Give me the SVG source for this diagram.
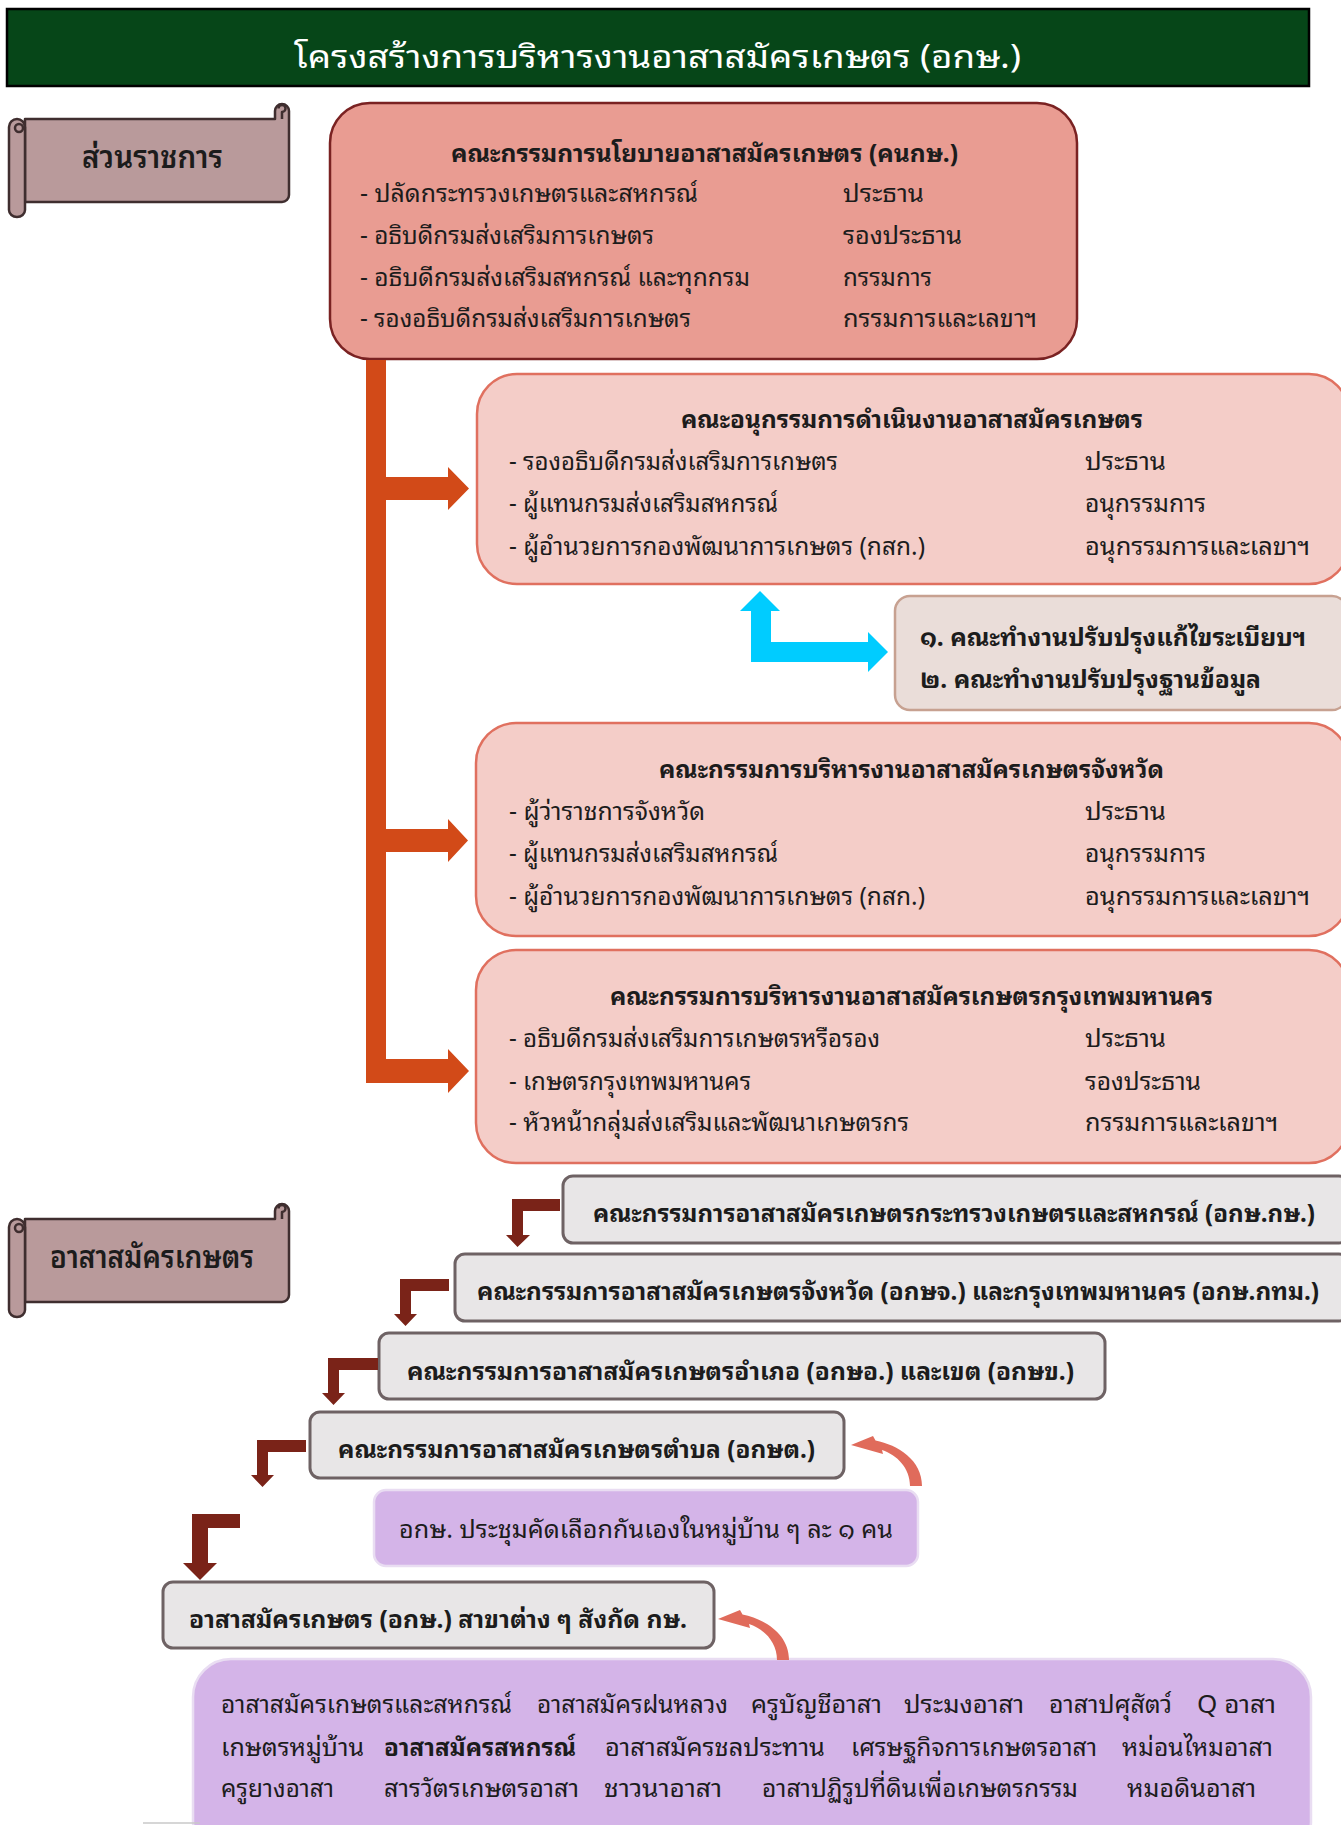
<svg xmlns="http://www.w3.org/2000/svg" width="1341" height="1825" viewBox="0 0 1341 1825">
<style>
text { font-family: "Noto Sans Thai Looped", "Loma", "Garuda", "Noto Sans Thai", "Noto Sans", "DejaVu Sans", sans-serif; fill: #1c1c1c; font-size: 25px; }
.b { font-weight: bold; }
.title { fill: #ffffff; font-size: 32px; }
.scrolltxt { font-size: 32px; font-weight: 600; }
.box1 { fill: #E99C92; stroke: #7A2222; stroke-width: 2.5; }
.pink { fill: #F4CDC8; stroke: #E0705F; stroke-width: 2.5; }
.tan { fill: #EADDD9; stroke: #C7A191; stroke-width: 2.5; }
.gray { fill: #E8E6E7; stroke: #6E6264; stroke-width: 3; }
.purple { fill: #D4B4E8; stroke: #E9DDF2; stroke-width: 2.5; }
.scroll { fill: #B99A9B; stroke: #3F2E2F; stroke-width: 2.5; stroke-linejoin: round; }
.orange { fill: #D24A18; }
.cyan { fill: #00CCFF; }
.brown { fill: #7A2318; }
.curve { fill: #E06B5B; }
</style>
<defs>
  <g id="scrollShape">
    <path class="scroll" d="M25,119 H275 V111 A7,7 0 0 1 289,111 V195 A7,7 0 0 1 282,202 H25 Z"/>
    <path class="scroll" d="M282,119 V112 A3.5,3.5 0 1 0 278.5,108.5" fill="none"/>
    <path class="scroll" d="M9,127 A8,8 0 0 1 25,127 V210 A8,7 0 0 1 9,210 Z"/>
    <circle class="scroll" cx="19" cy="128" r="4"/>
  </g>
  <path id="curveArrow" class="curve" d="M0,0 L22,-9 L24.5,-4.5 C47,0 71,15 71,41 L59,41 C59,23 46,10 31,5 L32,9 Z"/>
</defs>

<g id="title">
  <rect x="7" y="9" width="1302" height="77" fill="#064618" stroke="#000" stroke-width="2.5"/>
  <text class="title" x="294" y="68" textLength="727" lengthAdjust="spacingAndGlyphs">โครงสร้างการบริหารงานอาสาสมัครเกษตร (อกษ.)</text>
</g>

<g id="scroll-gov">
  <use href="#scrollShape"/>
  <text class="scrolltxt" x="82" y="168" textLength="141" lengthAdjust="spacingAndGlyphs">ส่วนราชการ</text>
</g>

<g id="scroll-vol">
  <use href="#scrollShape" transform="translate(0,1100)"/>
  <text class="scrolltxt" x="50" y="1268" textLength="204" lengthAdjust="spacingAndGlyphs">อาสาสมัครเกษตร</text>
</g>

<g id="policy-committee">
  <rect class="box1" x="330" y="103" width="747" height="256" rx="40"/>
  <text class="b" x="451" y="162" textLength="507" lengthAdjust="spacingAndGlyphs">คณะกรรมการนโยบายอาสาสมัครเกษตร (คนกษ.)</text>
  <text x="360" y="202" textLength="338" lengthAdjust="spacingAndGlyphs">- ปลัดกระทรวงเกษตรและสหกรณ์</text>
  <text x="843" y="202" textLength="81" lengthAdjust="spacingAndGlyphs">ประธาน</text>
  <text x="360" y="244" textLength="294" lengthAdjust="spacingAndGlyphs">- อธิบดีกรมส่งเสริมการเกษตร</text>
  <text x="843" y="244" textLength="119" lengthAdjust="spacingAndGlyphs">รองประธาน</text>
  <text x="360" y="286" textLength="390" lengthAdjust="spacingAndGlyphs">- อธิบดีกรมส่งเสริมสหกรณ์ และทุกกรม</text>
  <text x="843" y="286" textLength="89" lengthAdjust="spacingAndGlyphs">กรรมการ</text>
  <text x="360" y="327" textLength="331" lengthAdjust="spacingAndGlyphs">- รองอธิบดีกรมส่งเสริมการเกษตร</text>
  <text x="843" y="327" textLength="194" lengthAdjust="spacingAndGlyphs">กรรมการและเลขาฯ</text>
</g>

<g id="sub-committee">
  <rect class="pink" x="477" y="374" width="872" height="210" rx="40"/>
  <text class="b" x="681" y="428" textLength="462" lengthAdjust="spacingAndGlyphs">คณะอนุกรรมการดำเนินงานอาสาสมัครเกษตร</text>
  <text x="509" y="470" textLength="329" lengthAdjust="spacingAndGlyphs">- รองอธิบดีกรมส่งเสริมการเกษตร</text>
  <text x="1085" y="470" textLength="81" lengthAdjust="spacingAndGlyphs">ประธาน</text>
  <text x="509" y="512" textLength="269" lengthAdjust="spacingAndGlyphs">- ผู้แทนกรมส่งเสริมสหกรณ์</text>
  <text x="1085" y="512" textLength="121" lengthAdjust="spacingAndGlyphs">อนุกรรมการ</text>
  <text x="509" y="555" textLength="416" lengthAdjust="spacingAndGlyphs">- ผู้อำนวยการกองพัฒนาการเกษตร (กสก.)</text>
  <text x="1085" y="555" textLength="225" lengthAdjust="spacingAndGlyphs">อนุกรรมการและเลขาฯ</text>
</g>

<g id="working-groups">
  <rect class="tan" x="895" y="596" width="452" height="114" rx="15"/>
  <text class="b" x="920" y="646" textLength="386" lengthAdjust="spacingAndGlyphs">๑. คณะทำงานปรับปรุงแก้ไขระเบียบฯ</text>
  <text class="b" x="920" y="688" textLength="341" lengthAdjust="spacingAndGlyphs">๒. คณะทำงานปรับปรุงฐานข้อมูล</text>
</g>

<g id="province-committee">
  <rect class="pink" x="476" y="723" width="873" height="213" rx="40"/>
  <text class="b" x="659" y="778" textLength="505" lengthAdjust="spacingAndGlyphs">คณะกรรมการบริหารงานอาสาสมัครเกษตรจังหวัด</text>
  <text x="509" y="820" textLength="196" lengthAdjust="spacingAndGlyphs">- ผู้ว่าราชการจังหวัด</text>
  <text x="1085" y="820" textLength="81" lengthAdjust="spacingAndGlyphs">ประธาน</text>
  <text x="509" y="862" textLength="269" lengthAdjust="spacingAndGlyphs">- ผู้แทนกรมส่งเสริมสหกรณ์</text>
  <text x="1085" y="862" textLength="121" lengthAdjust="spacingAndGlyphs">อนุกรรมการ</text>
  <text x="509" y="905" textLength="416" lengthAdjust="spacingAndGlyphs">- ผู้อำนวยการกองพัฒนาการเกษตร (กสก.)</text>
  <text x="1085" y="905" textLength="225" lengthAdjust="spacingAndGlyphs">อนุกรรมการและเลขาฯ</text>
</g>

<g id="bangkok-committee">
  <rect class="pink" x="476" y="950" width="873" height="213" rx="40"/>
  <text class="b" x="610" y="1005" textLength="603" lengthAdjust="spacingAndGlyphs">คณะกรรมการบริหารงานอาสาสมัครเกษตรกรุงเทพมหานคร</text>
  <text x="509" y="1047" textLength="371" lengthAdjust="spacingAndGlyphs">- อธิบดีกรมส่งเสริมการเกษตรหรือรอง</text>
  <text x="1085" y="1047" textLength="81" lengthAdjust="spacingAndGlyphs">ประธาน</text>
  <text x="509" y="1090" textLength="242" lengthAdjust="spacingAndGlyphs">- เกษตรกรุงเทพมหานคร</text>
  <text x="1085" y="1090" textLength="116" lengthAdjust="spacingAndGlyphs">รองประธาน</text>
  <text x="509" y="1131" textLength="400" lengthAdjust="spacingAndGlyphs">- หัวหน้ากลุ่มส่งเสริมและพัฒนาเกษตรกร</text>
  <text x="1085" y="1131" textLength="193" lengthAdjust="spacingAndGlyphs">กรรมการและเลขาฯ</text>
</g>

<g id="vol-ministry">
  <rect class="gray" x="563" y="1176" width="786" height="67" rx="10"/>
  <text class="b" x="593" y="1222" textLength="722" lengthAdjust="spacingAndGlyphs">คณะกรรมการอาสาสมัครเกษตรกระทรวงเกษตรและสหกรณ์ (อกษ.กษ.)</text>
</g>
<g id="vol-province">
  <rect class="gray" x="455" y="1254" width="894" height="67" rx="10"/>
  <text class="b" x="477" y="1300" textLength="842" lengthAdjust="spacingAndGlyphs">คณะกรรมการอาสาสมัครเกษตรจังหวัด (อกษจ.) และกรุงเทพมหานคร (อกษ.กทม.)</text>
</g>
<g id="vol-district">
  <rect class="gray" x="379" y="1333" width="726" height="66" rx="10"/>
  <text class="b" x="407" y="1380" textLength="667" lengthAdjust="spacingAndGlyphs">คณะกรรมการอาสาสมัครเกษตรอำเภอ (อกษอ.) และเขต (อกษข.)</text>
</g>
<g id="vol-subdistrict">
  <rect class="gray" x="310" y="1412" width="534" height="66" rx="10"/>
  <text class="b" x="338" y="1458" textLength="477" lengthAdjust="spacingAndGlyphs">คณะกรรมการอาสาสมัครเกษตรตำบล (อกษต.)</text>
</g>
<g id="village-meeting">
  <rect class="purple" x="374" y="1490" width="544" height="76" rx="12"/>
  <text x="399" y="1538" textLength="494" lengthAdjust="spacingAndGlyphs">อกษ. ประชุมคัดเลือกกันเองในหมู่บ้าน ๆ ละ ๑ คน</text>
</g>
<g id="vol-branches">
  <rect class="gray" x="163" y="1582" width="551" height="66" rx="10"/>
  <text class="b" x="189" y="1628" textLength="498" lengthAdjust="spacingAndGlyphs">อาสาสมัครเกษตร (อกษ.) สาขาต่าง ๆ สังกัด กษ.</text>
</g>
<g id="branch-list">
  <rect class="purple" x="193" y="1659" width="1118" height="200" rx="38"/>
  <text x="221" y="1713" textLength="291" lengthAdjust="spacingAndGlyphs">อาสาสมัครเกษตรและสหกรณ์</text>
  <text x="537" y="1713" textLength="191" lengthAdjust="spacingAndGlyphs">อาสาสมัครฝนหลวง</text>
  <text x="751" y="1713" textLength="131" lengthAdjust="spacingAndGlyphs">ครูบัญชีอาสา</text>
  <text x="904" y="1713" textLength="120" lengthAdjust="spacingAndGlyphs">ประมงอาสา</text>
  <text x="1049" y="1713" textLength="123" lengthAdjust="spacingAndGlyphs">อาสาปศุสัตว์</text>
  <text x="1197" y="1713" textLength="79" lengthAdjust="spacingAndGlyphs">Q อาสา</text>
  <text x="221" y="1756" textLength="143" lengthAdjust="spacingAndGlyphs">เกษตรหมู่บ้าน</text>
  <text class="b" x="384" y="1756" textLength="192" lengthAdjust="spacingAndGlyphs">อาสาสมัครสหกรณ์</text>
  <text x="605" y="1756" textLength="220" lengthAdjust="spacingAndGlyphs">อาสาสมัครชลประทาน</text>
  <text x="851" y="1756" textLength="246" lengthAdjust="spacingAndGlyphs">เศรษฐกิจการเกษตรอาสา</text>
  <text x="1122" y="1756" textLength="151" lengthAdjust="spacingAndGlyphs">หม่อนไหมอาสา</text>
  <text x="221" y="1797" textLength="113" lengthAdjust="spacingAndGlyphs">ครูยางอาสา</text>
  <text x="384" y="1797" textLength="195" lengthAdjust="spacingAndGlyphs">สารวัตรเกษตรอาสา</text>
  <text x="604" y="1797" textLength="118" lengthAdjust="spacingAndGlyphs">ชาวนาอาสา</text>
  <text x="762" y="1797" textLength="316" lengthAdjust="spacingAndGlyphs">อาสาปฏิรูปที่ดินเพื่อเกษตรกรรม</text>
  <text x="1127" y="1797" textLength="129" lengthAdjust="spacingAndGlyphs">หมอดินอาสา</text>
</g>

<g id="connectors">
  <path class="orange" d="M366,360 H386 V477 H448 V467 L469,488.5 L448,510 V500 H386 V829 H448 V819 L468,840.5 L448,862 V852 H386 V1059 H448 V1049 L469,1071 L448,1093 V1083 H366 Z"/>
  <polygon class="cyan" points="760,591 780,611 771,611 771,642 868,642 868,632 888,652 868,672 868,662 751,662 751,611 740,611"/>
  <polygon class="brown" points="560,1199 560,1211 523,1211 523,1235 530,1235 517.5,1247 506,1235 512,1235 512,1199"/>
  <polygon class="brown" points="449,1279 449,1291 411,1291 411,1314 417,1314 405.5,1326 394,1314 400,1314 400,1279"/>
  <polygon class="brown" points="378,1358 378,1370 339,1370 339,1393 345,1393 333.5,1405 322,1393 328,1393 328,1358"/>
  <polygon class="brown" points="306,1440 306,1452 268,1452 268,1475 274,1475 262.5,1487 251,1475 257,1475 257,1440"/>
  <polygon class="brown" points="240,1514 240,1528 208,1528 208,1563 217,1563 200,1580 183,1563 192,1563 192,1514"/>
  <use href="#curveArrow" transform="translate(851,1445)"/>
  <use href="#curveArrow" transform="translate(718,1619)"/>
  <line x1="143" y1="1823" x2="200" y2="1823" stroke="#c8c8c8" stroke-width="1.5"/>
</g>
</svg>
